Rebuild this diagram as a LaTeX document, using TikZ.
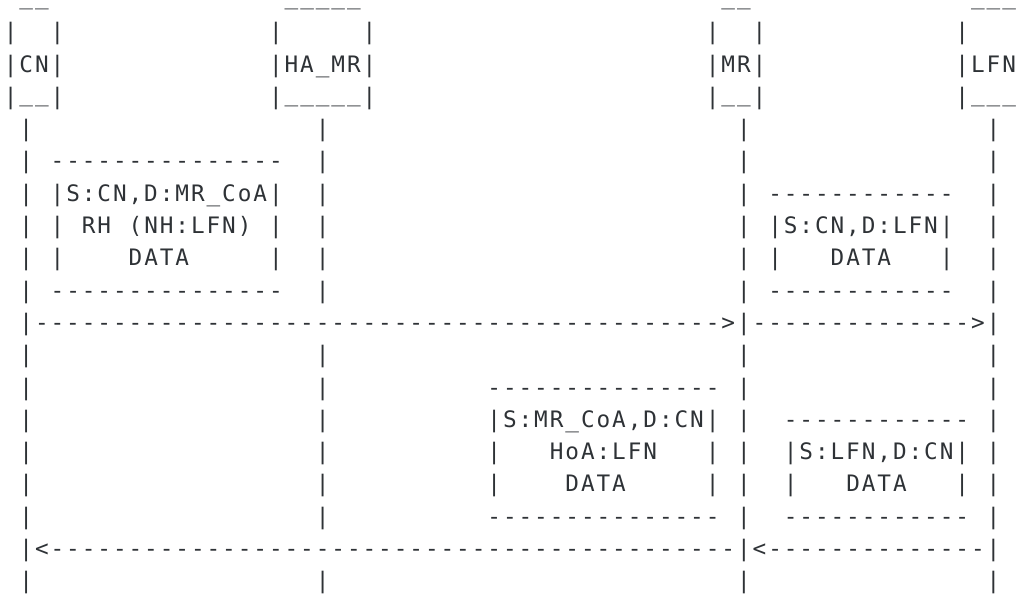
\documentclass[tikz,border=0pt]{standalone}
\usepackage{fontspec}
\newfontfamily\asciifont{DejaVu Sans Mono}[LetterSpace=8.62]
\definecolor{ink}{HTML}{2E3236}
\begin{document}
\begin{tikzpicture}[x=11.7pt,y=-24.225pt,under/.style={yshift=2pt}]
        \tikzstyle{every node}+=[inner sep=0pt,anchor=base west,text=ink,font=\fontsize{17pt}{20pt}\asciifont]
        \useasboundingbox (-0.23,-0.23) rectangle (65.09,18.25);
        % entity boxes
        \node[under] (cntop) at (1,0) {\_\_};
        \node[under] (hatop) at (18,0) {\_\_\_\_\_};
        \node[under] (mrtop) at (46,0) {\_\_};
        \node[under] (lfntop) at (62,0) {\_\_\_};
        \foreach \c/\n in {0/cnl,3/cnr,17/hal,23/har,45/mrl,48/mrr,61/lfnl}{
          \node (\n1) at (\c,1) {|};
          \node (\n3) at (\c,3) {|};
        }
        \node (cn) at (0,2) {|CN|};
        \node (hamr) at (17,2) {|HA\_MR|};
        \node (mr) at (45,2) {|MR|};
        \node (lfn) at (61,2) {|LFN};
        \node[under] (cnbot) at (1,3) {\_\_};
        \node[under] (habot) at (18,3) {\_\_\_\_\_};
        \node[under] (mrbot) at (46,3) {\_\_};
        \node[under] (lfnbot) at (62,3) {\_\_\_};
        % life lines
        \foreach \c/\n in {1/cn,47/mr,63/lfn}
          \foreach \r in {4,...,18}
            \node (\n-\r) at (\c,\r) {|};
        \foreach \r in {4,5,6,7,8,9,11,12,13,14,15,16,18}
          \node (hamr-\r) at (20,\r) {|};
        % packet CN to MR
        \node (ptop1) at (3,5) {---------------};
        \node (phdr1) at (3,6) {|S:CN,D:MR\_CoA|};
        \node (prhl) at (3,7) {|};
        \node (prh) at (5,7) {RH};
        \node (pnh) at (8,7) {(NH:LFN)};
        \node (prhr) at (17,7) {|};
        \node (pdatl1) at (3,8) {|};
        \node (pdat1) at (8,8) {DATA};
        \node (pdatr1) at (17,8) {|};
        \node (pbot1) at (3,9) {---------------};
        % packet MR to LFN
        \node (ptop2) at (49,6) {------------};
        \node (phdr2) at (49,7) {|S:CN,D:LFN|};
        \node (pdatl2) at (49,8) {|};
        \node (pdat2) at (53,8) {DATA};
        \node (pdatr2) at (60,8) {|};
        \node (pbot2) at (49,9) {------------};
        % forward path
        \node (fwd1) at (2,10) {-------------------------------------------->};
        \node (fwd2) at (48,10) {-------------->};
        % packet MR to CN
        \node (ptop3) at (31,12) {---------------};
        \node (phdr3) at (31,13) {|S:MR\_CoA,D:CN|};
        \node (phoal) at (31,14) {|};
        \node (phoa) at (35,14) {HoA:LFN};
        \node (phoar) at (45,14) {|};
        \node (pdatl3) at (31,15) {|};
        \node (pdat3) at (36,15) {DATA};
        \node (pdatr3) at (45,15) {|};
        \node (pbot3) at (31,16) {---------------};
        % packet LFN to MR
        \node (ptop4) at (50,13) {------------};
        \node (phdr4) at (50,14) {|S:LFN,D:CN|};
        \node (pdatl4) at (50,15) {|};
        \node (pdat4) at (54,15) {DATA};
        \node (pdatr4) at (61,15) {|};
        \node (pbot4) at (50,16) {------------};
        % return path
        \node (back1) at (2,17) {<--------------------------------------------};
        \node (back2) at (48,17) {<--------------};
\end{tikzpicture}
\end{document}
